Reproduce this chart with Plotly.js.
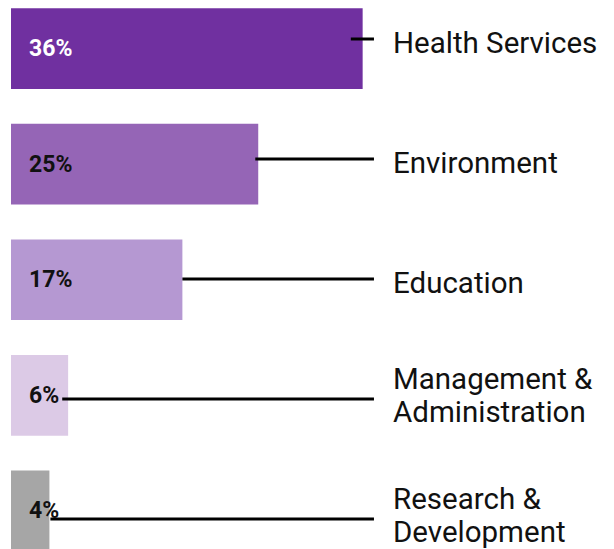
<!DOCTYPE html>
<html>
<head>
<meta charset="utf-8">
<script src="https://cdn.plot.ly/plotly-3.0.1.min.js"></script>
<style>html,body{margin:0;padding:0;background:#fff;}#chart{width:614px;height:549px;}</style>
</head>
<body>
<div id="chart"></div>
<script>
// ---- data ----
var categories = ['Health Services', 'Environment', 'Education', 'Management &<br>Administration', 'Research &<br>Development'];
var shares = [35.7, 25.1, 17.4, 5.8, 3.9];            // percent (bar lengths)
var barColors = ['#7030A0', '#9565B6', '#B598D2', '#DCCAE6', '#A6A6A6'];
var labelColors = ['#FFFFFF', '#111111', '#111111', '#111111', '#111111'];
var connectorStart = [34.5, 24.8, 17.4, 5.2, 4.0];    // where the leader line begins (percent units)
var connectorEnd = 36.85;

// ---- layout constants ----
var pxPerUnit = 9.85, plotLeft = 11, plotWidth = 603;
var xMax = plotWidth / pxPerUnit;
var labelX = (391 - plotLeft) / pxPerUnit;

var traces = [{
  type: 'bar', orientation: 'h',
  x: shares, y: categories,
  marker: {color: barColors, line: {width: 0}},
  hoverinfo: 'none', showlegend: false
}];

categories.forEach(function (c, i) {
  traces.push({
    type: 'scatter', mode: 'lines',
    x: [connectorStart[i], connectorEnd], y: [c, c],
    yaxis: 'y2',
    line: {color: '#000', width: 3},
    hoverinfo: 'none', showlegend: false
  });
});

var annotations = [];
categories.forEach(function (c, i) {
  annotations.push({
    xref: 'x', yref: 'y', x: 0, y: c, xshift: 16,
    xanchor: 'left', yanchor: 'middle', showarrow: false,
    text: Math.round(shares[i]) + '%',
    font: {family: 'Roboto', size: 23, color: labelColors[i], weight: 'bold'}
  });
  var lines = c.split('<br>');
  lines.forEach(function (ln, k) {
    var shift = lines.length === 1 ? -4 : (k === 0 ? 20 : -13);
    annotations.push({
      xref: 'x', yref: 'y2', x: labelX, y: c, yshift: shift,
      xanchor: 'left', yanchor: 'middle', showarrow: false,
      text: ln,
      font: {family: 'Roboto', size: 29.5, color: '#111'}
    });
  });
});

var layout = {
  width: 614, height: 549,
  margin: {l: plotLeft, r: 0, t: 0, b: 0, pad: 0},
  paper_bgcolor: '#fff', plot_bgcolor: '#fff',
  bargap: 0.302,
  xaxis: {range: [0, xMax], visible: false, fixedrange: true},
  yaxis: {type: 'category', categoryorder: 'array', categoryarray: categories,
          range: [4.329, -0.42], visible: false, fixedrange: true},
  yaxis2: {type: 'category', categoryorder: 'array', categoryarray: categories,
           overlaying: 'y', range: [4.25, -0.325], visible: false, fixedrange: true},
  annotations: annotations,
  showlegend: false
};

Plotly.newPlot('chart', traces, layout, {displayModeBar: false, staticPlot: true});
</script>
</body>
</html>
